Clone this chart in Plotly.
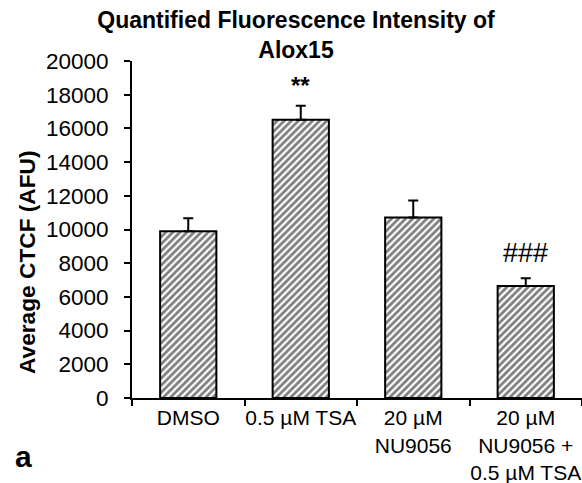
import plotly.graph_objects as go

categories = ["DMSO", "0.5 µM TSA", "20 µM<br>NU9056", "20 µM<br>NU9056 +<br>0.5 µM TSA"]
means = [9900, 16520, 10710, 6640]
sem = [770, 830, 1010, 460]
marks = ["", "**", "", "###"]
y_ticks = [0, 2000, 4000, 6000, 8000, 10000, 12000, 14000, 16000, 18000, 20000]

FONT = "Liberation Sans, Arial, sans-serif"

fig = go.Figure()
fig.add_trace(go.Bar(
    x=categories,
    y=means,
    width=0.5,
    marker=dict(
        color="white",
        line=dict(color="black", width=2),
        pattern=dict(shape="/", size=5, solidity=0.55, fgcolor="black", bgcolor="white"),
    ),
    error_y=dict(type="data", array=sem, arrayminus=[0] * len(sem), symmetric=False,
                 color="black", thickness=2, width=5),
    showlegend=False,
))

annotations = []
# significance marks above error bars
for c, m, s, mk in zip(categories, means, sem, marks):
    if not mk:
        continue
    bold = mk.startswith("*")
    annotations.append(dict(
        x=c, y=m + s, xref="x", yref="y", text=mk, showarrow=False,
        yanchor="bottom", yshift=5 if bold else 8,
        font=dict(family=FONT, size=24 if bold else 27, color="black",
                  weight="bold" if bold else "normal"),
    ))
# y-axis title
annotations.append(dict(
    x=-0.2333, y=0.4036, xref="paper", yref="paper", text="<b>Average CTCF (AFU)</b>",
    textangle=-90, showarrow=False, xanchor="center", yanchor="middle",
    font=dict(family=FONT, size=22.7, color="black"),
))
# panel label
annotations.append(dict(
    x=-0.2411, y=-0.175, xref="paper", yref="paper", text="<b>a</b>",
    showarrow=False, xanchor="center", yanchor="middle",
    font=dict(family=FONT, size=30, color="black"),
))

fig.update_layout(
    width=582, height=483,
    margin=dict(l=132, r=0, t=61, b=85),
    paper_bgcolor="white", plot_bgcolor="white",
    title=dict(text="<b>Quantified Fluorescence Intensity of<br>Alox15</b>",
               x=296 / 582, xanchor="center", xref="container",
               y=1 - 28 / 483, yanchor="middle", yref="container",
               font=dict(family=FONT, size=23, color="black")),
    font=dict(family=FONT, color="black"),
    bargap=0.5,
    annotations=annotations,
)
fig.update_xaxes(
    showline=True, linecolor="black", linewidth=2,
    ticks="outside", tickson="boundaries", ticklen=6, tickwidth=2, tickcolor="black",
    tickfont=dict(family=FONT, size=21, color="black"),
    tickangle=0, automargin=False,
    showgrid=False, zeroline=False,
)
fig.update_yaxes(
    range=[0, 20000], tickvals=y_ticks, ticktext=[str(v) for v in y_ticks],
    showline=True, linecolor="black", linewidth=2,
    ticks="outside", ticklen=6, tickwidth=2, tickcolor="black",
    tickfont=dict(family=FONT, size=22.5, color="black"),
    ticklabelstandoff=11, automargin=False,
    showgrid=False, zeroline=False,
)

fig.write_html("out.html")
